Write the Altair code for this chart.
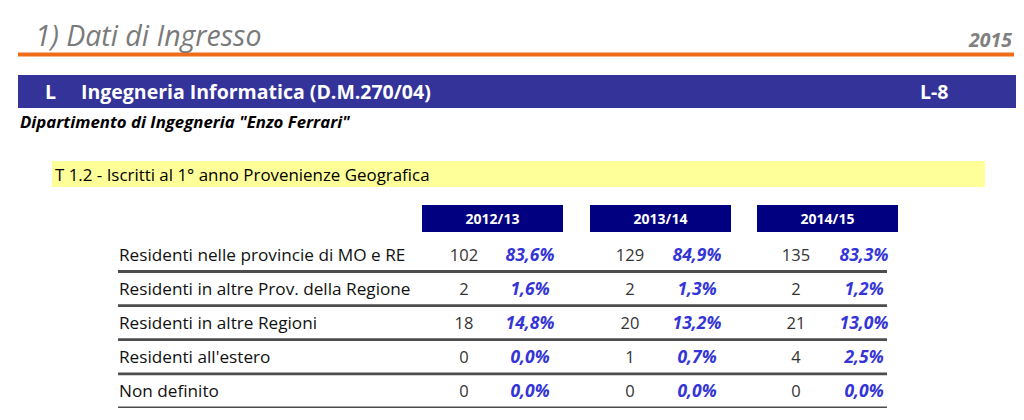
import altair as alt
import pandas as pd

# ---------------- data ----------------
page_title = "1) Dati di Ingresso"
report_year = "2015"
course_type = "L"
course_name = "Ingegneria Informatica (D.M.270/04)"
course_class = "L-8"
department = 'Dipartimento di Ingegneria "Enzo Ferrari"'
table_title = "T 1.2 - Iscritti al 1° anno Provenienze Geografica"

rows = [
    "Residenti nelle provincie di MO e RE",
    "Residenti in altre Prov. della Regione",
    "Residenti in altre Regioni",
    "Residenti all'estero",
    "Non definito",
]
years = ["2012/13", "2013/14", "2014/15"]
counts_2012 = [102, 2, 18, 0, 0]
counts_2013 = [129, 2, 20, 1, 0]
counts_2014 = [135, 2, 21, 4, 0]
pct_2012 = [83.6, 1.6, 14.8, 0.0, 0.0]
pct_2013 = [84.9, 1.3, 13.2, 0.7, 0.0]
pct_2014 = [83.3, 1.2, 13.0, 2.5, 0.0]

# ---------------- layout ----------------
W, H = 1008, 400
FONT = "Open Sans"
xs = alt.Scale(domain=[8, 8 + W])
ys = alt.Scale(domain=[8, 8 + H], reverse=True)
X = alt.X("x:Q", scale=xs, axis=None)
Y = alt.Y("y:Q", scale=ys, axis=None)

row_base0, row_step = 261, 34.1
count_cx = [464, 630, 796]
pct_cx = [530, 697, 864]
head_x0 = [422, 590, 757]
head_w = 141

def fmt_pct(v):
    return f"{v:.1f}".replace(".", ",") + "%"

def rect(df, color):
    return alt.Chart(df).mark_rect(color=color).encode(
        x=X, x2="x2:Q", y=Y, y2="y2:Q")

def text(df, **kw):
    base = dict(font=FONT, baseline="alphabetic")
    base.update(kw)
    return alt.Chart(df).mark_text(**base).encode(x=X, y=Y, text="t:N")

# bands
orange = alt.Chart(pd.DataFrame({"x": [18], "x2": [1014], "y": [54.5]})).mark_rule(
    color="#ef6c1a", strokeWidth=4).encode(x=X, x2="x2:Q", y=Y)
blue_band = rect(pd.DataFrame({"x": [18], "x2": [1016], "y": [75], "y2": [108]}), "#333399")
yellow_band = rect(pd.DataFrame({"x": [52], "x2": [985], "y": [161], "y2": [187]}), "#ffff99")
heads = rect(pd.DataFrame({"x": head_x0, "x2": [v + head_w for v in head_x0],
                           "y": [205] * 3, "y2": [232] * 3}), "#000080")

# separator lines
line_df = pd.DataFrame({"x": [118] * len(rows), "x2": [887] * len(rows),
                        "y": [row_base0 + row_step * i + 10.5 for i in range(len(rows))]})
lines = alt.Chart(line_df).mark_rule(color="#4d4d4d", strokeWidth=2.8).encode(x=X, x2="x2:Q", y=Y)

# texts
t_title = text(pd.DataFrame({"x": [35], "y": [46], "t": [page_title]}),
               fontSize=28.5, fontStyle="italic", color="#7a7a7a", align="left")
t_year = text(pd.DataFrame({"x": [1012], "y": [47], "t": [report_year]}),
              fontSize=19.5, fontStyle="italic", fontWeight="bold", color="#808080", align="right")
t_L = text(pd.DataFrame({"x": [45], "y": [99], "t": [course_type]}),
           fontSize=19.5, fontWeight="bold", color="white", align="left")
t_course = text(pd.DataFrame({"x": [81], "y": [99], "t": [course_name]}),
                fontSize=19.5, fontWeight="bold", color="white", align="left")
t_class = text(pd.DataFrame({"x": [920], "y": [99], "t": [course_class]}),
               fontSize=19.5, fontWeight="bold", color="white", align="left")
t_dept = text(pd.DataFrame({"x": [20], "y": [128], "t": [department]}),
              fontSize=16.8, fontWeight="bold", fontStyle="italic", color="black", align="left")
t_table = text(pd.DataFrame({"x": [55], "y": [181], "t": [table_title]}),
               fontSize=16.9, color="black", align="left")
t_heads = text(pd.DataFrame({"x": [v + head_w / 2 for v in head_x0], "y": [224] * 3, "t": years}),
               fontSize=14, fontWeight="bold", color="white", align="center")

row_y = [row_base0 + row_step * i for i in range(len(rows))]
t_rows = text(pd.DataFrame({"x": [119] * len(rows), "y": row_y, "t": rows}),
              fontSize=17.2, color="#111111", align="left")

cnt_recs, pct_recs = [], []
for cx, px, cnts, pcts in zip(count_cx, pct_cx, [counts_2012, counts_2013, counts_2014],
                              [pct_2012, pct_2013, pct_2014]):
    for y, c, p in zip(row_y, cnts, pcts):
        cnt_recs.append({"x": cx, "y": y, "t": str(c)})
        pct_recs.append({"x": px, "y": y, "t": fmt_pct(p)})
t_cnt = text(pd.DataFrame(cnt_recs), fontSize=16.5, color="#333333", align="center")
t_pct = text(pd.DataFrame(pct_recs), fontSize=17.5, fontWeight="bold", fontStyle="italic",
             color="#3535d6", align="center")

chart = alt.layer(
    orange, blue_band, yellow_band, heads, lines,
    t_title, t_year, t_L, t_course, t_class, t_dept, t_table, t_heads,
    t_rows, t_cnt, t_pct,
).properties(width=W, height=H, padding=0, autosize=alt.AutoSizeParams(type="none"),
             background="white").configure_view(strokeWidth=0)

chart.save("out.html", embed_options={"renderer": "svg", "actions": False})
